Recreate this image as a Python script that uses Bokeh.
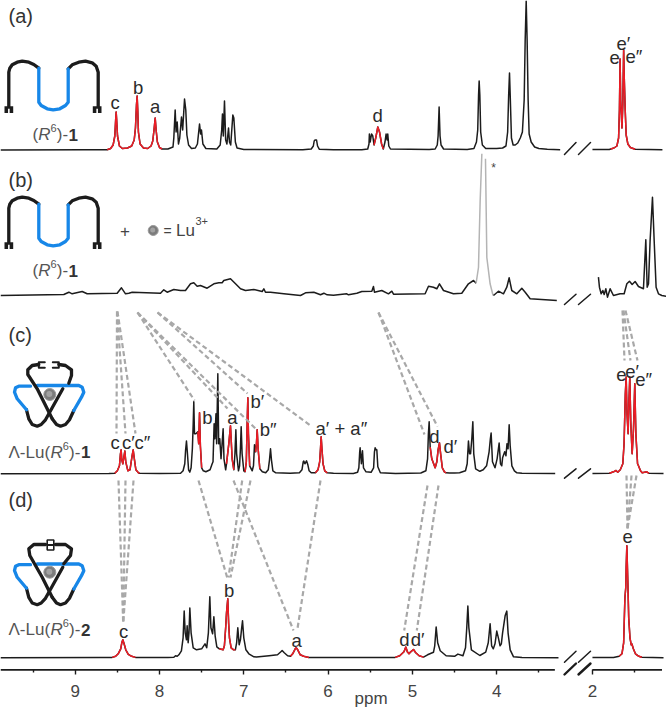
from bokeh.plotting import figure
from bokeh.embed import file_html
from bokeh.resources import INLINE
from bokeh.models import Range1d, LinearAxis, FixedTicker
from bokeh.core.properties import value

# ---------- spectra (ppm, intensity above each baseline) ----------
a_left_ppm = [9.886,8.9,8.62,8.58,8.55,8.53,8.52,8.514,8.508,8.498,8.475,8.44,8.38,8.33,8.30,8.285,8.273,8.265,8.258,8.25,8.23,8.19,8.14,8.10,8.08,8.065,8.051,8.04,8.025,8.0,7.97,7.90,7.84,7.83,7.814,7.803,7.79,7.775,7.76,7.739,7.725,7.703,7.688,7.675,7.655,7.62,7.575,7.55,7.525,7.512,7.502,7.485,7.45,7.32,7.28,7.262,7.253,7.243,7.229,7.215,7.2,7.181,7.17,7.155,7.13,7.118,7.10,7.08,7.0,6.3,6.2,6.175,6.165,6.155,6.145,6.137,6.125,6.105,5.936,5.6,5.53,5.515,5.51,5.50,5.485,5.47,5.455,5.435,5.41,5.39,5.365,5.345,5.325,5.312,5.30,5.292,5.28,5.26,4.8,4.73,4.705,4.695,4.683,4.672,4.66,4.63,4.35,4.27,4.24,4.225,4.215,4.208,4.2,4.19,4.17,4.13,4.0,3.93,3.89,3.87,3.858,3.848,3.838,3.825,3.805,3.78,3.75,3.72,3.695,3.674,3.662,3.65,3.639,3.627,3.615,3.591,3.55,3.5,3.4,3.247]
a_left_int = [0,0.3,0.3,1.5,5,14,30,38,30,14,4,1.5,2,4,10,22,45,54,40,18,6,2,1.5,4,9,20,32,20,8,2.5,1,1,3,12,40,18,28,6,12,33,20,51,40,15,5,1.5,2,6,26,16,20,6,1.5,1,5,20,36,14,49,10,6,22,8,5,35,32,8,2,0.5,0.3,1,4,9,10,10,10,4,0.8,0.3,0.3,1,6,16,8,16,14,5,12,23,18,6,1,8,16,10,16,4,1,0.4,1,5,14,43,14,5,1,0.5,1.5,8,20,55,69,55,18,5,1.5,1.5,2,4,18,55,77,50,12,5,5,7,12,18,50,110,149,110,50,16,8,3,1.5,0.7,0.3]
a_right_ppm = [2.0,1.80,1.783,1.745,1.71,1.69,1.68,1.672,1.665,1.65,1.64,1.63,1.622,1.612,1.60,1.58,1.55,1.494,1.17]
a_right_int = [0.5,0.5,1,2,4,12,40,91,50,22,45,100,70,41,15,6,2.5,0.8,0.3]
a_red = [(8.62,7.97),(5.455,5.34),(1.783,1.494)]

b_left_ppm = [9.886,9.135,9.075,9.036,8.957,8.917,8.858,8.502,8.451,8.403,8.364,8.324,7.988,7.949,7.909,7.83,7.751,7.692,7.632,7.593,7.553,7.514,7.435,7.355,7.296,7.257,7.237,7.158,7.098,7.039,6.98,6.881,6.782,6.762,6.743,6.683,6.525,6.327,6.268,6.169,6.09,6.05,6.011,5.936,5.778,5.758,5.659,5.6,5.481,5.462,5.45,5.363,5.284,5.244,5.224,4.849,4.809,4.75,4.71,4.679,4.631,4.513,4.414,4.335,4.275,4.244]
b_left_int = [5,6,8.3,6.7,8.3,9,6.7,7.3,12.7,6.7,7.3,8.3,7.3,10.7,8.3,11,10,10,16.7,17.7,14.3,15,12.3,16.7,17.7,17.7,20,21.7,16.7,11.7,10,11,9,11.7,8.3,8.3,6.7,5,7.7,8.3,5.7,7.3,5.7,5.3,6.7,5.7,7.3,9,9.3,14,8.3,10,6.7,9.3,6.3,6.7,14.3,13.3,11.7,16.7,10,6.7,7.3,16.7,20,17.3]
b_solvent_ppm = [4.244,4.216,4.196,4.176,float("nan"),4.133,4.117,4.078,4.046,4.038]
b_solvent_int = [17.3,33,100,146.7,float("nan"),141.7,43,16.7,6,5]
b_mid_ppm = [4.038,3.979,3.92,3.88,3.852,3.821,3.761,3.702,3.662,3.603,3.287]
b_mid_int = [5,9.3,6.7,13.3,22.7,10,6.7,12.3,8.3,1.7,0]
b_right_ppm = [1.929,1.917,1.897,1.877,1.861,1.841,1.822,1.79,1.751,1.672,1.624,1.592,1.561,1.529,1.494,1.454,1.395,1.367,1.351,1.335,1.316,1.288,1.268,1.245,1.217,1.177,1.126]
b_right_int = [23.3,13.3,6.7,10,6,11.7,3.3,11.7,5,6.7,6.7,16.7,19.3,16,19,14,11.7,60.7,13.3,16.7,60,103.3,60,13.3,6.7,5,4.3]

c_left_ppm = [9.886,8.6,8.53,8.50,8.475,8.463,8.455,8.447,8.435,8.42,8.411,8.40,8.375,8.35,8.325,8.312,8.30,8.28,8.25,8.237,8.0,7.75,7.72,7.70,7.69,7.68,7.67,7.655,7.64,7.625,7.61,7.60,7.593,7.585,7.569,7.545,7.535,7.525,7.515,7.50,7.48,7.45,7.40,7.375,7.365,7.352,7.343,7.33,7.322,7.308,7.298,7.285,7.27,7.245,7.235,7.215,7.205,7.178,7.158,7.138,7.118,7.105,7.094,7.085,7.063,7.05,7.04,7.031,7.02,7.0,6.985,6.97,6.96,6.952,6.945,6.93,6.9,6.885,6.873,6.86,6.85,6.841,6.83,6.81,6.78,6.74,6.71,6.695,6.683,6.672,6.655,6.62,6.45,6.34,6.31,6.295,6.288,6.275,6.256,6.24,6.225,6.2,6.15,6.12,6.10,6.09,6.082,6.073,6.06,6.04,6.01,5.936,5.7,5.65,5.635,5.625,5.62,5.605,5.592,5.58,5.55,5.49,5.46,5.45,5.442,5.43,5.422,5.41,5.38,5.2,4.9,4.84,4.82,4.81,4.801,4.789,4.77,4.73,4.71,4.695,4.679,4.665,4.645,4.62,4.6,4.56,4.5,4.44,4.37,4.35,4.335,4.322,4.31,4.295,4.283,4.272,4.25,4.2,4.16,4.12,4.09,4.075,4.066,4.05,4.02,3.995,3.971,3.955,3.94,3.93,3.905,3.89,3.878,3.865,3.852,3.84,3.82,3.79,3.76,3.7,3.306]
c_left_int = [0,0.2,0.6,3,8,20,24,14,10,18,22.7,12,3,4,18,24,16,4,1,0.5,0.2,0.5,3,10,24,32.7,22,4,1.7,6,25,50,72,40,40,42,30,61,28,6,3,2,4,10,12,50,35,60,30,100,30,35,15,45,15,4,10,30,48,15,4,20,44,20,3,8,25,47,20,3,2,12,50,76,40,8,3,8,29,22,30,44,25,5,2,1,4,14,25,14,3,1,0.5,1,4,12,12.7,10,13,9,3,1,1,4,12,25,37,25,10,3,1,0.5,0.4,1.5,6,22,26,10,23,6,2,1.5,6,22,26,24,24,7,1,0.3,0.8,3,15,40,52,26.7,15,6,12,24,31,20,6,2,1,0.8,0.7,1,3,10,32.7,20,20,35,52,20,5,2.5,4,8,22,35,40.7,12,6,15,30.7,10,8,16,22,18,30,25,49,28,8,3,1,0.5,0.3]
c_right_ppm = [2.0,1.798,1.75,1.72,1.70,1.67,1.64,1.625,1.61,1.6,1.59,1.577,1.568,1.557,1.545,1.529,1.513,1.498,1.485,1.465,1.454,1.43,1.41,1.355,1.33,1.157]
c_right_int = [0.3,0.5,2,3.3,1.5,4,10,30,80,96.7,60,40,70,96.7,50,20,45,90,40,10,8,3,1,2,0.5,0.3]
c_red = [(8.53,8.237),(7.55,7.49),(7.205,7.118),(6.985,6.93),(6.86,6.81),(6.15,6.01),(4.789,4.6),(1.798,1.33)]

d_left_ppm = [9.886,8.7,8.561,8.52,8.49,8.46,8.447,8.435,8.42,8.40,8.37,8.33,8.285,7.9,7.83,7.81,7.79,7.77,7.74,7.72,7.707,7.695,7.68,7.672,7.66,7.65,7.64,7.625,7.6,7.56,7.5,7.46,7.44,7.42,7.403,7.39,7.37,7.355,7.34,7.32,7.29,7.245,7.23,7.215,7.205,7.19,7.18,7.17,7.15,7.12,7.1,7.085,7.071,7.055,7.04,7.025,7.015,7.0,6.975,6.94,6.88,6.85,6.7,6.6,6.56,6.545,6.52,6.48,6.446,6.42,6.39,6.379,6.36,6.33,6.29,6.228,5.936,5.35,5.204,5.15,5.10,5.078,5.06,5.04,5.02,4.987,4.96,4.92,4.868,4.82,4.75,4.735,4.718,4.70,4.67,4.6,4.5,4.46,4.4,4.37,4.355,4.342,4.33,4.3,4.2,4.13,4.10,4.078,4.06,4.04,4.02,3.999,3.98,3.96,3.945,3.93,3.90,3.88,3.865,3.84,3.80,3.7,3.267]
d_left_int = [0,0.2,0.4,1.5,4,9,15,18,14,8,3.5,1.5,0.4,0.2,0.5,2,1.5,3,7,20,46.7,25,18,32,15,25,49.7,25,10,8,9,14,10,25,61,30,24,41,22,11,9,8,12,30,45,59,35,20,10,8,8,15,30,13,18,30,37,20,8,4,1,0.7,2,3,6,7.3,5,2,1.5,4,9,10,8,3,1.5,0.3,0.3,0.3,0.4,2,6,10.7,6,4,6,8.3,5,2,0.7,3,5.5,12,30.7,15,7,2,1.5,3.7,2,10,30,51.7,30,8,2.3,5.7,15,34,12,9,14,26.7,20,12,14,25,42,46.7,25,8,1,0.2,0]
d_right_ppm = [2.0,1.75,1.683,1.65,1.63,1.615,1.605,1.6,1.592,1.58,1.57,1.555,1.54,1.533,1.515,1.49,1.45,1.414,1.157]
d_right_int = [0.3,0.3,1.5,4,15,60,70,90,112,75,40,20,13,14,9,4,1.5,0.5,0]
d_red = [(8.561,8.285),(7.29,7.1),(6.446,6.228),(5.204,4.868),(1.683,1.414)]

BASE = {"a": 149.5, "b": 300.0, "c": 473.3, "d": 657.3}

# ---------- axis ----------
tick_ppm = [9, 8, 7, 6, 5, 4, 2]
tick_labels = ["9", "8", "7", "6", "5", "4", "2"]
minor_ppm = [9.5, 8.5, 7.5, 6.5, 5.5, 4.5, 3.5, 1.5]
axis_spans = [(9.886, 3.31), (2.0, 1.175)]
x_label = "ppm"
BREAK = 0.864   # the part right of the break is shifted by this much

BLACK, RED, BLUE, GREY = "#1c1c1c", "#ee1c25", "#1787e8", "#a8a8a8"
TXT = "#2b2b2b"
FONT = "Liberation Sans"
W, H, AXIS_Y = 666, 709, 669.4


def brk(values):
    return [round(v + BREAK, 3) if v <= 2.1 else v for v in values]


p = figure(width=W, height=H, output_backend="svg", toolbar_location=None,
           x_range=Range1d(9.886, 9.886 - W / 84.3), y_range=Range1d(H, 0),
           x_axis_location=None, y_axis_location=None, tools="",
           min_border_left=0, min_border_right=0, min_border_top=0, min_border_bottom=0,
           outline_line_color=None, background_fill_color="white")
p.grid.visible = False
p.extra_x_ranges["px"] = Range1d(0, W)
for name, base in BASE.items():
    p.extra_y_ranges[name] = Range1d(base - H, base)

axis = LinearAxis(ticker=FixedTicker(ticks=brk(tick_ppm), minor_ticks=brk(minor_ppm)), fixed_location=AXIS_Y)
axis.major_label_overrides = dict(zip(brk(tick_ppm), tick_labels))
axis.axis_line_color = None
axis.major_tick_in = 0
axis.major_tick_out = 5
axis.minor_tick_in = 0
axis.minor_tick_out = 3
axis.major_tick_line_color = BLACK
axis.minor_tick_line_color = BLACK
axis.major_tick_line_width = 1.4
axis.minor_tick_line_width = 1.4
axis.major_label_text_font = FONT
axis.major_label_text_font_size = "17px"
axis.major_label_text_color = "#444444"
axis.major_label_standoff = 10
p.add_layout(axis, "below")
for lo, hi in axis_spans:
    p.line(brk([lo, hi]), [AXIS_Y, AXIS_Y], line_color=BLACK, line_width=1.6)


def spec(name, xs, ys, color=BLACK, red=None, width=1.5):
    p.line(xs, ys, y_range_name=name, line_color=color, line_width=width, line_join="round")
    for hi, lo in (red or []):
        sel = [(x, y) for x, y in zip(xs, ys) if lo <= x <= hi]
        if len(sel) > 1:
            p.line([s[0] for s in sel], [s[1] for s in sel], y_range_name=name,
                   line_color=RED, line_width=width, line_join="round")


spec("a", a_left_ppm, a_left_int, red=a_red)
spec("a", brk(a_right_ppm), a_right_int, red=[(h + BREAK, l + BREAK) for h, l in a_red[-1:]])
spec("b", b_left_ppm, b_left_int)
spec("b", b_solvent_ppm, b_solvent_int, color="#b4b4b4")
spec("b", b_mid_ppm, b_mid_int)
spec("b", brk(b_right_ppm), b_right_int)
spec("c", c_left_ppm, c_left_int, red=c_red[:-1])
spec("c", brk(c_right_ppm), c_right_int, red=[(h + BREAK, l + BREAK) for h, l in c_red[-1:]])
spec("d", d_left_ppm, d_left_int, red=d_red[:-1])
spec("d", brk(d_right_ppm), d_right_int, red=[(h + BREAK, l + BREAK) for h, l in d_red[-1:]])


def px_line(xs, ys, color=BLACK, width=3.3, dash="solid", cap="round"):
    p.line(xs, ys, x_range_name="px", line_color=color, line_width=width, line_dash=dash,
           line_cap=cap, line_join="round")


# ---------- correlation lines ----------
conn_x0 = [116.5,116.5,117,137,137,137,157,157,378,378,622,623,625,
           118,125,133,198,241.7,250,233,320,427,438,626,631,636]
conn_y0 = [311,311,311,312,312,312,312,312,312,312,310,310,310,
           480,480,480,480,480,480,480,480,485,485,475,475,475]
conn_x1 = [116,125,135,194,227,255,247,310,424,437,624,630,637,
           122.7,122.7,122.7,226.7,228,230,293,296.7,403.7,416.3,627,627,627]
conn_y1 = [433,433,433,400,408,428,393,425,434,426,360,360,360,
           623,623,623,577,577,577,630,630,630,630,528,528,528]
for x0, y0, x1, y1 in zip(conn_x0, conn_y0, conn_x1, conn_y1):
    px_line([x0, x1], [y0, y1], color=GREY, width=2.2, dash="5 3", cap="butt")

# ---------- break marks ----------
break_y = [(154, 142), (304, 293.7), (477.7, 468.3), (661.7, 650.7)]
for y0, y1 in break_y:
    px_line([564, 575.5], [y0, y1], width=1.5)
    px_line([578, 590], [y0, y1], width=1.5)
px_line([564, 575.5], [674, 663], width=2.4)
px_line([578, 590], [674, 663], width=2.4)

# ---------- cartoons ----------
def u_cartoon(dy):
    shift = lambda ys: [y + dy for y in ys]
    px_line([8.3,8.3,9.3,11.7,16.7,21.7,28.3,33.3,38.3], shift([110,71.7,67.7,64.3,61.7,60.7,61.7,64,67.7]))
    px_line([67.7,71.7,78.3,85,91.7,95.7,97.7,97.7], shift([68.3,64.3,61.7,60.7,62.3,65.7,71.7,110]))
    px_line([38.3,38.3,40.7,46.7,52.7,59.3,65,67.7,67.7], shift([67.7,101.7,105,108.3,109.3,108.3,105,101.7,68.3]), color=BLUE)
    for left, right in [(4.0, 12.7), (92.3, 101.0)]:
        p.quad(left=[left], right=[right], top=[105.7 + dy], bottom=[112.5 + dy], x_range_name="px",
               fill_color=BLACK, line_color=None)
        mid = (left + right) / 2
        px_line([mid, mid], [108.2 + dy, 113 + dy], color="white", width=1.6, cap="butt")


def sphere(x, y, r):
    p.circle([x], [y], radius=r, x_range_name="px", fill_color="#7c7c7c", line_color="#9a9a9a", line_width=1)
    p.circle([x - 0.5], [y - 0.5], radius=r * 0.5, x_range_name="px", fill_color="#a2a2a2", line_color=None)


def tri_lower(dy):
    shift = lambda ys: [y + dy for y in ys]
    px_line([62.3,45,40.7,36.7,31.7,28.3,26], shift([388.3,419.3,424,425.7,424,418.3,409.3]))
    px_line([51.7,56,60,65,69,73.3], shift([418.3,424,425.7,424,419.3,410]))
    px_line([36.7,78.3,81.7,83.3,81,73.3], shift([385,385,386.7,391.7,396.7,410]), color=BLUE)
    px_line([30,18.3,15,14,16.7,26], shift([385.7,385.7,387.3,391.7,398.3,409.3]), color=BLUE)


u_cartoon(0)
u_cartoon(136)
# panel (c)
tri_lower(0)
px_line([38.3,31.7,27.3,27.3,36.7,51.7], [364,365,369.3,374,388.3,418.3])
px_line([58.3,65,71,71,68.3], [364,365,369.3,375,382.7])
px_line([44.3,38.3,38.3,44.3], [361.7,361.7,367.3,367.3], width=2)
px_line([52.3,58.3,58.3,52.3], [361.7,361.7,367.3,367.3], width=2)
sphere(49.3, 394, 6)
# panel (d)
tri_lower(178.5)
px_line([45,33.3,28.3,29.3,41.7,51.7], [544,544,548.3,555,576.7,596.8])
px_line([55,65,71,70,63.3], [544,544,548.3,555,563.3])
p.quad(left=[46.7], right=[53.3], top=[539.5], bottom=[549.5], x_range_name="px", fill_color="white",
       line_color=BLACK, line_width=1.6)
px_line([46.7, 53.3], [544.5, 544.5], width=2, cap="butt")
sphere(49.3, 571.7, 6)
sphere(152.7, 230, 5)


# ---------- texts ----------
def t(x, y, s, size=17, color=TXT, align="left", style="normal"):
    # y is the wanted text baseline; the drawn text sits lower, about 0.29 of its size
    p.text([x], [y - 0.29 * size], text=[s], x_range_name="px", text_font=value(FONT), text_font_size=f"{size}px",
           text_color=color, text_align=align, text_baseline="alphabetic", text_font_style=style)


def compound(x, y, prefix, number):
    c = "#555555"
    t(x, y, prefix + "(", color=c)
    rx = x + {"": 5.7, "Λ-Lu": 42}[prefix]
    t(rx, y, "R", color=c, style="italic")
    t(rx + 12.3, y - 8, "6", size=11, color=c)
    t(rx + 18.6, y, ")-", color=c)
    t(rx + 30.4, y, number, color="#333333", style="bold")


panel_letters = ["(a)", "(b)", "(c)", "(d)"]
panel_y = [21, 185, 340.7, 505]
for s, y in zip(panel_letters, panel_y):
    t(8, y, s, size=20, color="#333333")
compound(32, 139, "", "1")
compound(32, 275, "", "1")
compound(8, 456.7, "Λ-Lu", "1")
compound(8, 634, "Λ-Lu", "2")

peak_labels = [
    ("c",110,107),("b",132.5,92),("a",149.5,111),("d",372,120),("e",609,62),("e′",616,48),("e″",625,61),
    ("c",110,447.3),("c′",121.5,447.3),("c″",134,447.3),("b",201.7,422.7),("a",226.7,422.7),
    ("b′",250,406.7),("b″",259.3,434),("a′ + a″",315,433.3),("d",428.7,441.7),("d′",443,451.7),
    ("e",615.7,379.3),("e′",624.7,376),("e″",634.7,384),
    ("c",118.5,636),("b",223.5,595.7),("a",291,645),("d",398.7,644.3),("d′",410.3,644.3),("e",622,541.7),
]
for s, x, y in peak_labels:
    t(x, y, s, size=18.5)

t(119.5, 235, "+", size=17, color="#444444")
t(163, 235, "=", size=14, color="#444444")
t(175.5, 235, "Lu", size=17, color="#444444")
t(195, 224, "3+", size=11, color="#444444")
t(493, 171, "*", size=12, color="#444444", align="center")
t(354, 703, x_label, color="#444444")

open("out.html", "w").write(file_html(p, INLINE))
